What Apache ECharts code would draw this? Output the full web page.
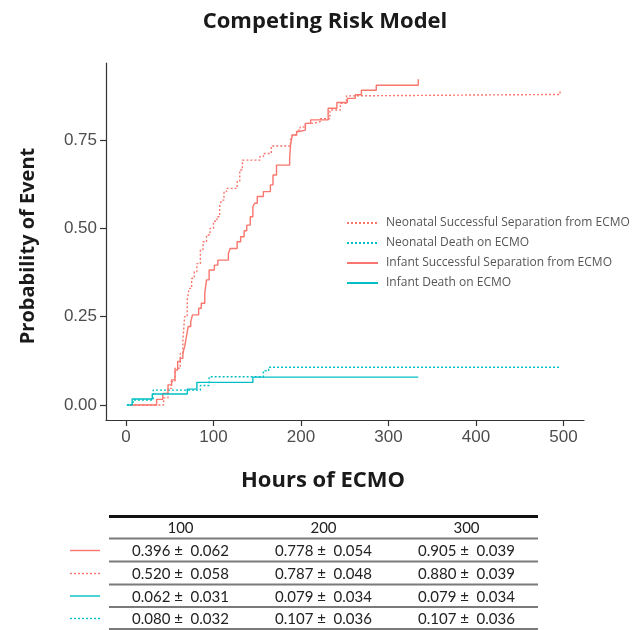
<!DOCTYPE html>
<html><head><meta charset="utf-8">
<script src="https://cdn.jsdelivr.net/npm/echarts@6/dist/echarts.min.js"></script>
<style>html,body{margin:0;padding:0;background:#fff}#c{width:635px;height:630px}</style>
</head><body><div id="c"></div>
<script>
// ---------- data ----------
const xTicks = [0, 100, 200, 300, 400, 500];
const yTicks = [0, 0.25, 0.5, 0.75];
const seriesNames = [
  'Neonatal Successful Separation from ECMO',
  'Neonatal Death on ECMO',
  'Infant Successful Separation from ECMO',
  'Infant Death on ECMO'
];
// [hours, cumulative incidence] – step functions
const neonatalSuccess = [[5,0],[43,0.02],[48,0.047],[52,0.066],[56,0.104],[62,0.146],[65,0.184],[67,0.25],[70,0.297],[72,0.33],[75,0.358],[78,0.377],[81,0.40],[85,0.439],[88,0.462],[92,0.481],[96,0.50],[100,0.52],[104,0.533],[107,0.561],[109,0.58],[112,0.604],[115,0.613],[127,0.632],[130,0.665],[133,0.693],[153,0.703],[157,0.712],[166,0.733],[188,0.75],[190,0.764],[195,0.778],[199,0.787],[205,0.797],[214,0.802],[222,0.81],[233,0.835],[245,0.854],[252,0.875],[258,0.879],[496,0.893]];
const neonatalDeath = [[1,0],[8,0.014],[31,0.042],[85,0.055],[95,0.080],[157,0.097],[163,0.107],[496,0.107]];
const infantSuccess = [[5,0],[35,0.016],[42,0.033],[48,0.057],[52,0.071],[56,0.099],[59,0.123],[62,0.132],[65,0.146],[67,0.165],[69,0.193],[71,0.222],[74,0.236],[76,0.255],[83,0.274],[86,0.288],[90,0.316],[92,0.354],[95,0.382],[101,0.396],[105,0.41],[117,0.429],[119,0.443],[127,0.462],[131,0.476],[135,0.493],[138,0.509],[142,0.533],[145,0.561],[147,0.571],[150,0.590],[157,0.604],[165,0.623],[168,0.651],[172,0.679],[187,0.698],[188,0.736],[190,0.764],[195,0.774],[198,0.778],[205,0.797],[211,0.807],[231,0.840],[241,0.856],[253,0.868],[262,0.878],[269,0.891],[286,0.905],[334,0.922]];
const infantDeath = [[1,0],[7,0.017],[30,0.031],[70,0.045],[81,0.064],[145,0.079],[334,0.079]];

const tableHeader = ['100', '200', '300'];
const tableInfantSuccess   = ['0.396 ±  0.062', '0.778 ±  0.054', '0.905 ±  0.039'];
const tableNeonatalSuccess = ['0.520 ±  0.058', '0.787 ±  0.048', '0.880 ±  0.039'];
const tableInfantDeath     = ['0.062 ±  0.031', '0.079 ±  0.034', '0.079 ±  0.034'];
const tableNeonatalDeath   = ['0.080 ±  0.032', '0.107 ±  0.036', '0.107 ±  0.036'];

// ---------- style ----------
const RED = '#F8766D', CYAN = '#00BFC4';
const DOT = [2, 2];
const chart = echarts.init(document.getElementById('c'), null, {renderer: 'canvas'});

function lineSeries(name, data, color, dotted) {
  return {
    name, type: 'line', data, step: 'end', symbol: 'none', silent: true,
    lineStyle: {color, width: 1.4, type: dotted ? DOT : 'solid'},
    itemStyle: {color}
  };
}

// table graphics
const g = [];
const colX = [180.5, 323.5, 466.5];
const tblL = 109, tblR = 538;
g.push({type: 'line', shape: {x1: tblL, y1: 516.5, x2: tblR, y2: 516.5}, style: {stroke: '#111', lineWidth: 3}});
[538.5, 561.5, 584.5, 607, 629].forEach(y => g.push({type: 'line', shape: {x1: tblL, y1: y, x2: tblR, y2: y}, style: {stroke: '#7a7a7a', lineWidth: 2}}));
const tf = {fontFamily: 'Lato', fontSize: 15, fill: '#222', align: 'center', verticalAlign: 'middle'};
tableHeader.forEach((t, i) => g.push({type: 'text', x: colX[i], y: 528.5, style: Object.assign({text: t}, tf)}));
const rows = [
  {vals: tableInfantSuccess, color: RED, dotted: false},
  {vals: tableNeonatalSuccess, color: RED, dotted: true},
  {vals: tableInfantDeath, color: CYAN, dotted: false},
  {vals: tableNeonatalDeath, color: CYAN, dotted: true}
];
const rowY = [551.5, 574.5, 597, 619.5];
rows.forEach((r, k) => {
  r.vals.forEach((t, i) => g.push({type: 'text', x: colX[i], y: rowY[k], style: Object.assign({text: t}, tf)}));
  g.push({type: 'line', shape: {x1: 70, y1: rowY[k] - 1, x2: 100, y2: rowY[k] - 1},
    style: {stroke: r.color, lineWidth: 1.4, lineDash: r.dotted ? DOT : null}});
});
// titles
g.push({type: 'text', x: 325, y: 22, style: {text: 'Competing Risk Model', fontFamily: 'Open Sans', fontWeight: 'bold', fontSize: 22, fill: '#1a1a1a', align: 'center', verticalAlign: 'middle'}});
g.push({type: 'text', x: 323, y: 481, style: {text: 'Hours of ECMO', fontFamily: 'Open Sans', fontWeight: 'bold', fontSize: 22, fill: '#1a1a1a', align: 'center', verticalAlign: 'middle'}});
g.push({type: 'text', x: 28, y: 246, rotation: Math.PI / 2, style: {text: 'Probability of Event', fontFamily: 'Open Sans', fontWeight: 'bold', fontSize: 20, fill: '#1a1a1a', align: 'center', verticalAlign: 'middle'}});

const axisCommon = {
  axisLine: {show: true, onZero: false, lineStyle: {color: '#333', width: 1.2}},
  axisTick: {show: true, length: 6, lineStyle: {color: '#333', width: 1.2}},
  splitLine: {show: false},
};

chart.setOption({
  backgroundColor: '#fff',
  animation: false,
  grid: {left: 106, top: 63, width: 478, height: 357, containLabel: false, outerBoundsMode: 'none'},
  xAxis: Object.assign({
    type: 'value', min: -22.86, max: 523.4,
    axisLabel: {customValues: xTicks, color: '#4d4d4d', fontFamily: 'Liberation Sans', fontSize: 17, margin: 9}
  }, axisCommon, {axisTick: Object.assign({customValues: xTicks}, axisCommon.axisTick)}),
  yAxis: Object.assign({
    type: 'value', min: -0.0425, max: 0.968,
    axisLabel: {customValues: yTicks, color: '#4d4d4d', fontFamily: 'Liberation Sans', fontSize: 17, margin: 9, formatter: v => v.toFixed(2)}
  }, axisCommon, {axisTick: Object.assign({customValues: yTicks}, axisCommon.axisTick)}),
  legend: {
    orient: 'vertical', left: 341, top: 211, itemWidth: 31, itemHeight: 14, itemGap: 6,
    selectedMode: false, data: seriesNames,
    itemStyle: {opacity: 0},
    textStyle: {fontFamily: 'Open Sans', fontSize: 12, color: '#555', padding: [0, 0, 0, 3], lineHeight: 14}
  },
  series: [
    lineSeries(seriesNames[0], neonatalSuccess, RED, true),
    lineSeries(seriesNames[1], neonatalDeath, CYAN, true),
    lineSeries(seriesNames[2], infantSuccess, RED, false),
    lineSeries(seriesNames[3], infantDeath, CYAN, false)
  ],
  graphic: g
});
</script></body></html>
